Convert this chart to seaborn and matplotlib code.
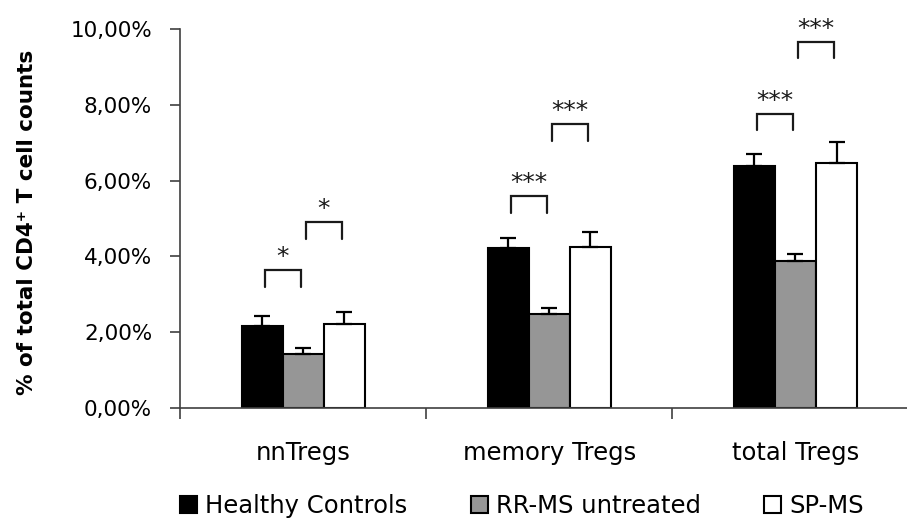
import numpy as np
import pandas as pd
import matplotlib
matplotlib.use('Agg')
import matplotlib.pyplot as plt
import seaborn as sns
from matplotlib.ticker import FuncFormatter

# data (percent of CD4+ T cells)
cells = ['nnTregs', 'memory Tregs', 'total Tregs']
groups = ['Healthy Controls', 'RR-MS untreated', 'SP-MS']
healthy = [2.17, 4.23, 6.39]
rrms = [1.42, 2.47, 3.88]
spms = [2.21, 4.26, 6.47]
healthy_err = [0.25, 0.25, 0.30]
rrms_err = [0.15, 0.16, 0.18]
spms_err = [0.32, 0.38, 0.54]

# significance brackets: (cell, group a, group b, leg bottom, bracket top, label)
brackets = [
    (0, 0, 1, 3.20, 3.64, '*'),
    (0, 1, 2, 4.46, 4.90, '*'),
    (1, 0, 1, 5.15, 5.59, '***'),
    (1, 1, 2, 7.05, 7.49, '***'),
    (2, 0, 1, 7.34, 7.76, '***'),
    (2, 1, 2, 9.23, 9.65, '***'),
]

df = pd.DataFrame({
    'cell': cells * 3,
    'group': [g for g in groups for _ in cells],
    'value': healthy + rrms + spms,
})
errs = [healthy_err, rrms_err, spms_err]

sns.set_style('white')
plt.rcParams['font.family'] = ['DejaVu Sans']
plt.rcParams['text.color'] = 'black'
plt.rcParams['axes.labelcolor'] = 'black'

fig = plt.figure(figsize=(9.07, 5.2), dpi=100)
ax = fig.add_axes([180 / 907, 112 / 520, 727 / 907, 379 / 520])

sns.barplot(data=df, x='cell', y='value', hue='group', order=cells, hue_order=groups,
            palette=['black', '#969696', 'white'], width=0.5, edgecolor='black',
            linewidth=1.5, errorbar=None, ax=ax)

# upper error bars only, excel style
centers = []
for cont, e in zip(ax.containers, errs):
    xs = [b.get_x() + b.get_width() / 2 for b in cont]
    hs = [b.get_height() for b in cont]
    centers.append(xs)
    ax.errorbar(xs, hs, yerr=[np.zeros(len(e)), e], fmt='none', ecolor='black',
                elinewidth=1.6, capsize=5.5, capthick=1.6, zorder=3)

for ci, ga, gb, low, top, lab in brackets:
    xa = centers[ga][ci] + 0.01
    xb = centers[gb][ci] - 0.01
    ax.plot([xa, xa, xb, xb], [low, top, top, low], color='#1a1a1a', lw=1.6,
            clip_on=False, solid_joinstyle='miter')
    ax.annotate(lab, ((xa + xb) / 2, top), xytext=(0, 1), textcoords='offset points',
                ha='center', va='bottom', fontsize=18, color='#1a1a1a',
                annotation_clip=False)

ax.set_ylim(0, 10)
ax.set_xlim(-0.5, 2.453)
ax.set_yticks(np.arange(0, 10.1, 2))
ax.yaxis.set_major_formatter(FuncFormatter(lambda v, p: f'{v:.2f}%'.replace('.', ',')))
ax.tick_params(axis='y', which='major', left=True, length=7, width=1.2,
               color='#404040', pad=13, labelsize=15.5, labelcolor='black')

# category ticks at boundaries, labels in the middle
ax.set_xticks([-0.5, 0.5, 1.5])
ax.set_xticklabels([])
ax.set_xticks([0, 1, 2], minor=True)
ax.set_xticklabels(cells, minor=True)
ax.tick_params(axis='x', which='major', bottom=True, length=8, width=1.2, color='#404040')
ax.tick_params(axis='x', which='minor', bottom=True, length=0, pad=24, labelsize=17.5,
               labelcolor='black')
ax.set_xlabel('')

ax.set_ylabel('% of total CD4\u207a T cell counts', fontsize=15.5, fontweight='bold')
ax.yaxis.set_label_coords(-0.197, 0.49)

sns.despine(ax=ax)
for s in ['left', 'bottom']:
    ax.spines[s].set_color('#404040')
    ax.spines[s].set_linewidth(1.2)

handles, labels = ax.get_legend_handles_labels()
ax.get_legend().remove()
leg = fig.legend(handles, labels, loc='center', bbox_to_anchor=(0.5755, 0.027), ncol=3,
                 frameon=False, fontsize=17.5, handlelength=0.7, handleheight=0.7,
                 handletextpad=0.35, columnspacing=2.6, borderpad=0)
for t in leg.get_texts():
    t.set_color('black')

fig.savefig('out.png', dpi=100)
